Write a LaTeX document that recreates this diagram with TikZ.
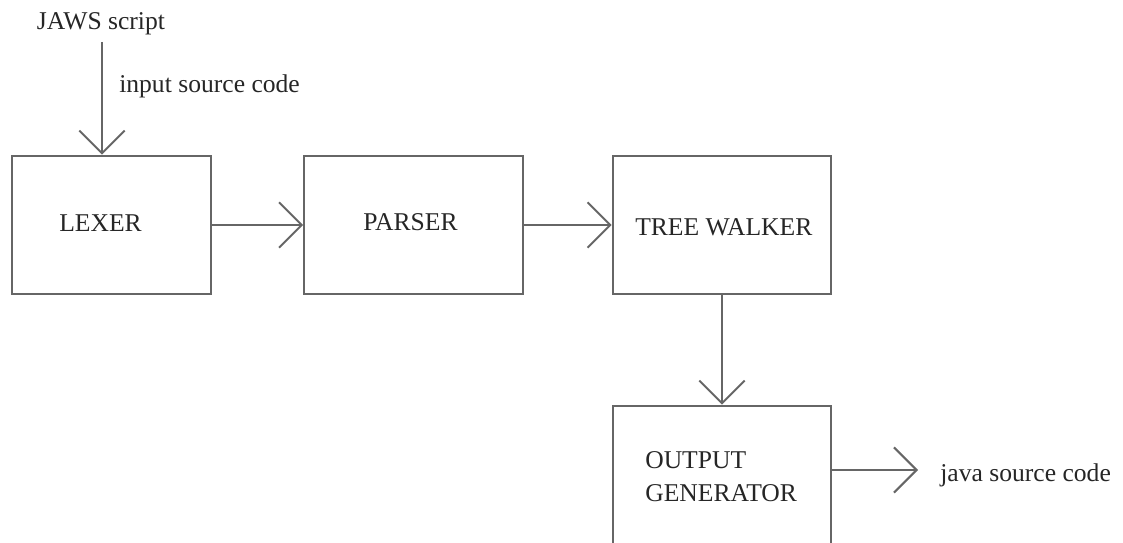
\documentclass[tikz,border=0pt]{standalone}
\usepackage{fontspec}
\setmainfont{Liberation Serif}
\usetikzlibrary{arrows.meta,positioning}
\definecolor{Line}{HTML}{666666}
\definecolor{Ink}{HTML}{262626}
\tikzset{
  every node/.append style={text=Ink},
  blk/.style={draw=Line, line width=1.5pt, fill=white, minimum width=164pt,
              minimum height=104pt, inner sep=0pt},
  lbl/.style={font=\fontsize{19.2}{25}\selectfont, inner sep=0pt, anchor=base west},
  flow/.style={-{Straight Barb[length=17pt,width=34pt,line width=1.5pt]},
               line width=1.5pt, draw=Line},
}
\begin{document}
\begin{tikzpicture}[x=0.75pt,y=-0.75pt]
  \useasboundingbox (0,0) rectangle (1123,542);
  \clip (0,0) rectangle (1123,542);
  % stages
  \node[blk, minimum width=149pt] (lexer) at (111.5,225) {};
  \node[blk] (parser) at (413.5,225) {};
  \node[blk] (tree) at (722,225) {};
  \node[blk] (out) at (722,475) {};
  \node[lbl] (lexer-txt) at (59,231) {LEXER};
  \node[lbl] (parser-txt) at (363,230) {PARSER};
  \node[lbl] (tree-txt) at (635,235) {TREE WALKER};
  \node[lbl, anchor=north west, align=left] (out-txt) at (645,451) {OUTPUT\\GENERATOR};
  % input and output
  \node[lbl, anchor=base] (jaws) at (101,30) {JAWS script};
  \coordinate (src) at (102,42);
  \node[lbl] (src-txt) at (119,93) {input source code};
  \coordinate (sink) at (918,470);
  \node[lbl] (java) at (940,481) {java source code};
  \draw[flow] (src) -- (src |- lexer.north);
  \draw[flow] (lexer.east) -- (parser.west);
  \draw[flow] (parser.east) -- (tree.west);
  \draw[flow] (tree.south) -- (out.north);
  \draw[flow] (out.east |- sink) -- (sink);
\end{tikzpicture}
\end{document}
